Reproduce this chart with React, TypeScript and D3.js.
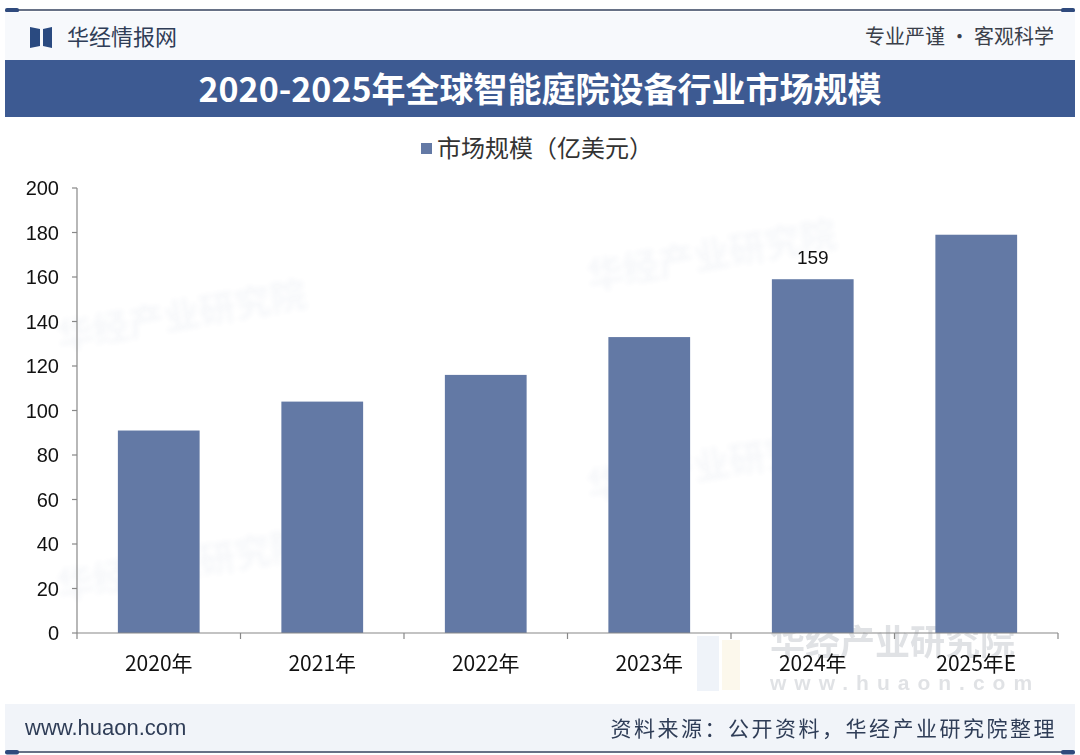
import React from "react";
import * as d3 from "d3";

const categories = ["2020年", "2021年", "2022年", "2023年", "2024年", "2025年E"];
const values = [91, 104, 116, 133, 159, 179];
const labeledIndex = [4];
const yTicks = [0, 20, 40, 60, 80, 100, 120, 140, 160, 180, 200];
const title = "2020-2025年全球智能庭院设备行业市场规模";
const legendLabel = "市场规模（亿美元）";
const brand = "华经情报网";
const slogan = "专业严谨 • 客观科学";
const site = "www.huaon.com";
const source = "资料来源：公开资料，华经产业研究院整理";
const watermark = "华经产业研究院";

const W = 1080;
const H = 755;
const CJK = "'Noto Sans CJK SC', 'Noto Sans', sans-serif";
const NUM = "'Liberation Sans', Arial, sans-serif";
const BAR = "#6379a5";

export default function App() {
  const left = 77;
  const right = 1058;
  const top = 188;
  const bottom = 633;
  const x = d3.scaleBand<string>().domain(categories).range([left, right]).paddingInner(0.5).paddingOuter(0.25);
  const y = d3.scaleLinear().domain([0, 200]).range([bottom, top]);
  const boundaries = d3.range(categories.length + 1).map((i) => left + i * ((right - left) / categories.length));

  return (
    <svg width={W} height={H} viewBox={`0 0 ${W} ${H}`} style={{ position: "absolute", left: 0, top: 0, background: "#fff" }}>
      <defs>
        <filter id="blur"><feGaussianBlur stdDeviation="2.5" /></filter>
      </defs>
      <rect x={0} y={0} width={W} height={H} fill="#ffffff" />
      {/* top line */}
      <line x1={6} x2={1074} y1={10} y2={10} stroke="#34425e" strokeWidth={1.5} />
      <rect x={5} y={8} width={14} height={4.5} rx={2} fill="#2f4a7d" />
      <rect x={1061} y={8} width={14} height={4.5} rx={2} fill="#2f4a7d" />
      <rect x={5} y={12} width={1070} height={48} fill="#f7f9fc" />
      {/* logo */}
      <path d="M30,27 L40,29 L40,46 L30,48 Z" fill="#2a4a80" />
      <path d="M43,29 L52,27 L52,48 L43,46 Z" fill="#2a4a80" />
      <text x={67} y={45} fontFamily={CJK} fontSize={22} fill="#2f3d57">{brand}</text>
      <text x={1054} y={44} textAnchor="end" fontFamily={CJK} fontSize={20} fill="#3a3f4a">{slogan}</text>
      {/* title bar */}
      <rect x={5} y={60} width={1070} height={57} fill="#3d5a92" />
      <text x={540} y={102} textAnchor="middle" fontFamily={CJK} fontWeight={700} fontSize={34} fill="#ffffff">{title}</text>

      {/* faint watermarks */}
      <g opacity={0.045} fontFamily={CJK} fontWeight={700} fontSize={36} fill="#3d5a92" filter="url(#blur)">
        <text x={60} y={350} transform="rotate(-10 60 350)">{watermark}</text>
        <text x={590} y={290} transform="rotate(-10 590 290)">{watermark}</text>
        <text x={60} y={600} transform="rotate(-10 60 600)">{watermark}</text>
        <text x={590} y={500} transform="rotate(-10 590 500)">{watermark}</text>
      </g>

      {/* legend */}
      <rect x={421} y={143} width={11} height={11} fill={BAR} />
      <text x={437} y={157} fontFamily={CJK} fontSize={24} fill="#333">{legendLabel}</text>

      {/* bottom watermark */}
      <g opacity={0.3}>
        <rect x={697} y={636} width={22} height={55} fill="#c9d6ea" />
        <rect x={722} y={640} width={18} height={50} fill="#f5e6c0" />
        <text x={770} y={655} fontFamily={CJK} fontWeight={700} fontSize={35} fill="#9aa0aa">{watermark}</text>
        <text x={770} y={690} fontFamily={NUM} fontWeight={700} fontSize={21} letterSpacing={8} fill="#9aa0aa">{site}</text>
      </g>

      {/* bars */}
      {values.map((v, i) => (
        <rect key={categories[i]} x={x(categories[i])} y={y(v)} width={x.bandwidth()} height={y(0) - y(v)} fill={BAR} />
      ))}
      {labeledIndex.map((i) => (
        <text key={"l" + i} x={(x(categories[i]) as number) + x.bandwidth() / 2} y={y(values[i]) - 15} textAnchor="middle" fontFamily={NUM} fontSize={19} fill="#111">
          {values[i]}
        </text>
      ))}

      {/* y axis */}
      <line x1={left} x2={left} y1={top} y2={bottom} stroke="#888" strokeWidth={1.2} />
      {yTicks.map((t) => (
        <g key={t}>
          <line x1={left - 5} x2={left} y1={y(t)} y2={y(t)} stroke="#888" strokeWidth={1.2} />
          <text x={59} y={y(t) + 7} textAnchor="end" fontFamily={NUM} fontSize={20} fill="#111">{t}</text>
        </g>
      ))}
      {/* x axis */}
      <line x1={left} x2={right} y1={bottom} y2={bottom} stroke="#888" strokeWidth={1.2} />
      {boundaries.map((b, i) => (
        <line key={"b" + i} x1={b} x2={b} y1={bottom} y2={bottom + 6} stroke="#888" strokeWidth={1.2} />
      ))}
      {categories.map((c) => (
        <text key={"x" + c} x={(x(c) as number) + x.bandwidth() / 2} y={671} textAnchor="middle" fontFamily={CJK} fontSize={21} fill="#111">{c}</text>
      ))}

      {/* footer */}
      <rect x={5} y={704} width={1070} height={47} fill="#f1f4f9" />
      <line x1={6} x2={1074} y1={752} y2={752} stroke="#34425e" strokeWidth={1.5} />
      <rect x={5} y={750} width={14} height={4.5} rx={2} fill="#2f4a7d" />
      <rect x={1061} y={750} width={14} height={4.5} rx={2} fill="#2f4a7d" />
      <text x={25} y={735} fontFamily={NUM} fontSize={22} fill="#2f3d57">{site}</text>
      <text x={1057} y={736} textAnchor="end" fontFamily={CJK} fontSize={21} letterSpacing={2.5} fill="#2f3d57">{source}</text>
    </svg>
  );
}
